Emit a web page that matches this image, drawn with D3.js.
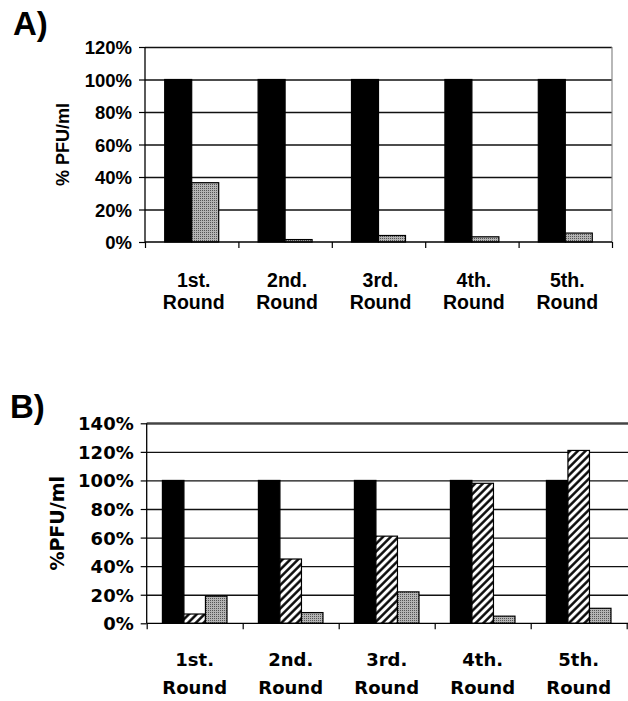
<!DOCTYPE html>
<html><head><meta charset="utf-8">
<script src="https://cdn.jsdelivr.net/npm/d3@7"></script>
<style>html,body{margin:0;padding:0;background:#fff;}svg{display:block;}</style>
</head><body>
<svg id="c" width="628" height="701"></svg>
<script>
// ---- data ----
const rounds = ["1st.|Round","2nd.|Round","3rd.|Round","4th.|Round","5th.|Round"];
const seriesA = ["black","dots"];
const valuesA_black = [100,100,100,100,100];
const valuesA_dots  = [36.5,1.5,4,3.2,5.5];
const yTicksA = [0,20,40,60,80,100,120];

const seriesB = ["black","hatch","dots"];
const valuesB_black = [100,100,100,100,100];
const valuesB_hatch = [6.5,45,61,98,121];
const valuesB_dots  = [19,7.5,22,5,10.5];
const yTicksB = [0,20,40,60,80,100,120,140];

const svg = d3.select("#c");
const defs = svg.append("defs");
// dotted gray texture
const pd = defs.append("pattern").attr("id","dots").attr("patternUnits","userSpaceOnUse").attr("width",2).attr("height",2);
pd.append("rect").attr("width",2).attr("height",2).attr("fill","#b4b4b4");
pd.append("rect").attr("width",1).attr("height",1).attr("fill","#555");
// hatch
const ph = defs.append("pattern").attr("id","hatch").attr("patternUnits","userSpaceOnUse")
  .attr("width",5.5).attr("height",5.5).attr("patternTransform","rotate(45)");
ph.append("rect").attr("width",5.5).attr("height",5.5).attr("fill","#fff");
ph.append("line").attr("x1",1.4).attr("y1",0).attr("x2",1.4).attr("y2",5.5).attr("stroke","#000").attr("stroke-width",2.4);

const fills = {black:"#000", dots:"url(#dots)", hatch:"url(#hatch)"};

function panel(o){
  const g = svg.append("g");
  const x0 = d3.scaleBand().domain(rounds).range([o.left,o.right]).padding(0);
  const x1 = d3.scaleBand().domain(o.series).range([0,x0.bandwidth()]).paddingInner(0).paddingOuter(0.73);
  const y = d3.scaleLinear().domain([0,o.max]).range([o.bottom,o.top]);
  const xEdge = d3.scaleLinear().domain([0,5]).range([o.left,o.right]);

  // gridlines
  g.append("g").attr("transform",`translate(${o.left},0)`)
    .call(d3.axisLeft(y).tickValues(o.ticks.filter(t=>t>0)).tickSize(-(o.gridRight-o.left)).tickFormat(""))
    .call(s=>s.select(".domain").remove())
    .call(s=>s.selectAll("line").attr("stroke","#111").attr("stroke-width",1.3));
  if(o.topThick) g.append("line").attr("x1",o.left).attr("x2",o.gridRight).attr("y1",y(o.max)).attr("y2",y(o.max)).attr("stroke","#444").attr("stroke-width",2);
  if(o.rightBorder) g.append("line").attr("x1",o.right).attr("x2",o.right).attr("y1",o.top).attr("y2",o.bottom).attr("stroke","#888").attr("stroke-width",1.2);

  // bars
  o.series.forEach((s,i)=>{
    g.append("g").selectAll("rect").data(o.values[i]).join("rect")
      .attr("x",(d,j)=>x0(rounds[j])+x1(s))
      .attr("y",d=>y(d))
      .attr("width",x1.bandwidth())
      .attr("height",d=>o.bottom-y(d))
      .attr("fill",fills[s]).attr("stroke","#000").attr("stroke-width",1.2);
  });

  // left axis
  const ya = g.append("g").attr("transform",`translate(${o.left},0)`)
    .call(d3.axisLeft(y).tickValues(o.ticks).tickSize(6).tickPadding(7).tickFormat(d=>d+"%"));
  ya.select(".domain").attr("stroke","#000").attr("stroke-width",1.3).attr("d",`M0,${o.top}V${o.bottom}`);
  ya.selectAll("line").attr("stroke","#000").attr("stroke-width",1.2);
  ya.selectAll("text").attr("fill","#000").attr("font-family",o.font).attr("font-weight","bold").attr("font-size",o.tickSize).attr("dy","0.36em");

  // bottom axis
  const xa = g.append("g").attr("transform",`translate(0,${o.bottom})`)
    .call(d3.axisBottom(xEdge).ticks(5).tickSize(6).tickFormat(""));
  xa.select(".domain").attr("stroke","#000").attr("stroke-width",1.3).attr("d",`M${o.left},0H${o.gridRight}`);
  xa.selectAll("line").attr("stroke","#000").attr("stroke-width",1.2);

  // category labels
  const lab = g.append("g").selectAll("text").data(rounds).join("text")
    .attr("x",d=>x0(d)+x0.bandwidth()/2+o.labShift)
    .attr("text-anchor","middle").attr("font-family",o.font).attr("font-weight","bold").attr("font-size",o.catSize).attr("fill","#000");
  lab.append("tspan").attr("x",d=>x0(d)+x0.bandwidth()/2+o.labShift).attr("y",o.lab1).text(d=>d.split("|")[0]);
  lab.append("tspan").attr("x",d=>x0(d)+x0.bandwidth()/2+o.labShift).attr("y",o.lab2).text(d=>d.split("|")[1]);

  // y title
  g.append("text").attr("transform",`translate(${o.titleX},${(o.top+o.bottom)/2}) rotate(-90)`)
    .attr("text-anchor","middle").attr("font-family",o.font).attr("font-weight","bold").attr("font-size",o.titleSize).attr("fill","#000")
    .text(o.title);

  // panel letter
  g.append("text").attr("x",o.letterX).attr("y",o.letterY).attr("font-family","Liberation Sans, Arial, sans-serif")
    .attr("font-weight","bold").attr("font-size",33).attr("fill","#000").text(o.letter);
}

panel({left:145,right:612,gridRight:612,top:47,bottom:242,max:120,ticks:yTicksA,series:seriesA,
  values:[valuesA_black,valuesA_dots],font:"Liberation Sans, Arial, sans-serif",tickSize:18.5,catSize:19.5,
  lab1:286.5,lab2:309,labShift:2,title:"% PFU/ml",titleX:69,titleSize:18,letter:"A)",letterX:13,letterY:35,
  rightBorder:true,topThick:false});

panel({left:146.7,right:626.7,gridRight:628,top:423.3,bottom:623.3,max:140,ticks:yTicksB,series:seriesB,
  values:[valuesB_black,valuesB_hatch,valuesB_dots],font:"DejaVu Sans, sans-serif",tickSize:18,catSize:18,
  lab1:666,lab2:694,labShift:0,title:"%PFU/ml",titleX:64,titleSize:19,letter:"B)",letterX:10,letterY:418,
  rightBorder:false,topThick:true});
</script>
</body></html>
